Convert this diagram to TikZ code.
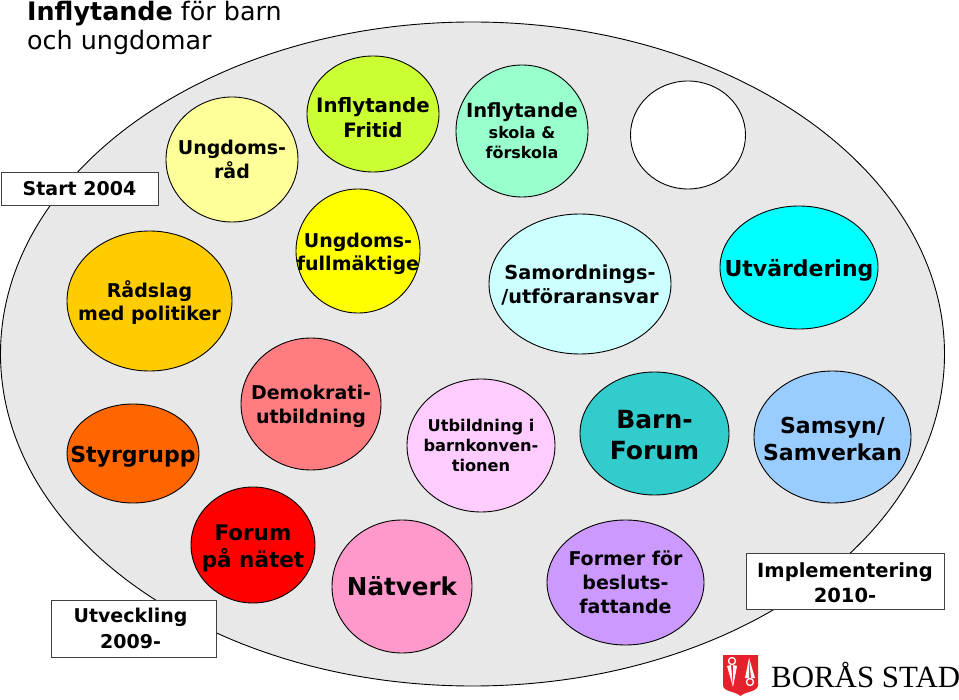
\documentclass[tikz,border=0pt]{standalone}
\usepackage{fontspec}
\setmainfont{DejaVu Sans}
\newfontfamily\logofont{Liberation Serif}
\usetikzlibrary{shapes.geometric}

\newcommand{\fsz}[1]{\fontsize{#1}{\dimexpr#1pt*5/4\relax}\selectfont}
\newcommand{\dropto}[1]{\rule{0pt}{#1pt}}

\definecolor{plate}{HTML}{E8E8E8}
\definecolor{cream}{HTML}{FFFF99}
\definecolor{lime}{HTML}{CCFF33}
\definecolor{mint}{HTML}{99FFCC}
\definecolor{sun}{HTML}{FFFF00}
\definecolor{pale}{HTML}{CCFFFF}
\definecolor{aqua}{HTML}{00FFFF}
\definecolor{gold}{HTML}{FFCC00}
\definecolor{tangerine}{HTML}{FF6600}
\definecolor{salmon}{HTML}{FF7C80}
\definecolor{blush}{HTML}{FFCCFF}
\definecolor{lagoon}{HTML}{33CCCC}
\definecolor{sky}{HTML}{99CCFF}
\definecolor{signal}{HTML}{FF0000}
\definecolor{rose}{HTML}{FF99CC}
\definecolor{lilac}{HTML}{CC99FF}
\definecolor{logored}{HTML}{E3222B}

\begin{document}
\begin{tikzpicture}[
    x=1pt, y=-1pt,
    bubble/.style n args={4}{
        ellipse, draw=black, line width=0.9pt, inner sep=-60pt,
        minimum width=#1pt, minimum height=#2pt,
        fill=#3, align=center, font=\bfseries\fsz{#4}
    },
    infobox/.style n args={3}{
        rectangle, draw=black!75, line width=0.9pt, fill=white,
        minimum width=#1pt, minimum height=#2pt,
        inner sep=0pt, align=center, font=\bfseries\fsz{#3}
    }
]
\useasboundingbox (0,0) rectangle (959,700);

% ============ Background ============
\node[ellipse, draw=black, line width=0.9pt, fill=plate, minimum width=944pt, minimum height=664pt, inner sep=0pt] (plate) at (472.5,354) {};

\node[anchor=north west, inner sep=0pt, align=left, font=\fontsize{25.4}{29}\selectfont] (title) at (27,1) {\textbf{Inflytande} för barn\\och ungdomar};

% ============ Bubbles ============
\node[bubble={132}{125}{cream}{19}] (radet) at (232,159.5) {Ungdoms-\\råd};
\node[bubble={132}{116}{lime}{19.8}] (fritid) at (373,114) {\dropto{23}Inflytande\\Fritid};
\node[bubble={132}{132}{mint}{16}] (skola) at (522,131) {\fsz{19.5}Inflytande\\[1pt]skola \&\\förskola};
\node[bubble={115}{108}{white}{10}] (blank) at (688,135) {};

\node[bubble={124}{124}{sun}{19}] (fullmaktige) at (358,251) {\dropto{20}Ungdoms-\\fullmäktige};
\node[bubble={182}{140}{pale}{19.3}] (samordning) at (580,284) {\dropto{17}Samordnings-\\/utföraransvar};
\node[bubble={158}{123}{aqua}{22}] (utvardering) at (799,267.5) {\dropto{23}Utvärdering};
\node[bubble={165}{140}{gold}{19}] (radslag) at (149.5,301) {\dropto{20}Rådslag\\med politiker};

\node[bubble={132}{99}{tangerine}{22}] (styrgrupp) at (133,453.5) {\dropto{23}Styrgrupp};
\node[bubble={140}{132}{salmon}{19}] (demokrati) at (311,404) {\dropto{18.5}Demokrati-\\utbildning};
\node[bubble={148}{133}{blush}{16.2}] (konvention) at (481,445.5) {Utbildning i\\barnkonven-\\tionen};
\node[bubble={149}{123}{lagoon}{25}] (barnforum) at (654.5,433.5) {\dropto{21}Barn-\\Forum};
\node[bubble={157}{132}{sky}{22}] (samsyn) at (832.5,437) {\dropto{20}Samsyn/\\Samverkan};

\node[bubble={124}{116}{signal}{21.5}] (natet) at (253,545) {\dropto{22}Forum\\på nätet};
\node[bubble={140}{133}{rose}{24.6}] (natverk) at (402,586.5) {Nätverk};
\node[bubble={157}{125}{lilac}{19}] (former) at (625.5,582.5) {Former för\\besluts-\\fattande};

% ============ Boxes ============
\node[infobox={157}{33}{19}] (start) at (79.5,188.5) {Start 2004};
\node[infobox={165}{57}{19}] (utveckling) at (133.5,628.5) {Utveckling\hspace*{6pt}\\[2pt]2009-\hspace*{6pt}};
\node[infobox={198}{56}{19.5}] (implementering) at (845,581) {\dropto{18}Implementering\\2010-};

% ============ Logo ============
\fill[logored] (723,655) -- (758,655) -- (758,685) .. controls (758,692) and (746,691) .. (740.5,696) .. controls (735,691) and (723,692) .. (723,685) -- cycle;
\draw[white, line width=1.3pt] (732,661) circle (3.5pt);
\fill[white] (727,666) -- (731,665) -- (733,687) -- cycle;
\fill[white] (737,666) -- (733,665) -- (733,687) -- cycle;
\draw[white, line width=1.3pt] (750,682) circle (3.5pt);
\fill[white] (745,678) -- (749,678) -- (749,658) -- cycle;
\fill[white] (755,678) -- (751,678) -- (749,658) -- cycle;
\node[anchor=west, inner sep=0pt, font=\logofont\fontsize{30.9}{32}\selectfont] (logo) at (771,675) {BORÅS STAD};

\end{tikzpicture}
\end{document}
